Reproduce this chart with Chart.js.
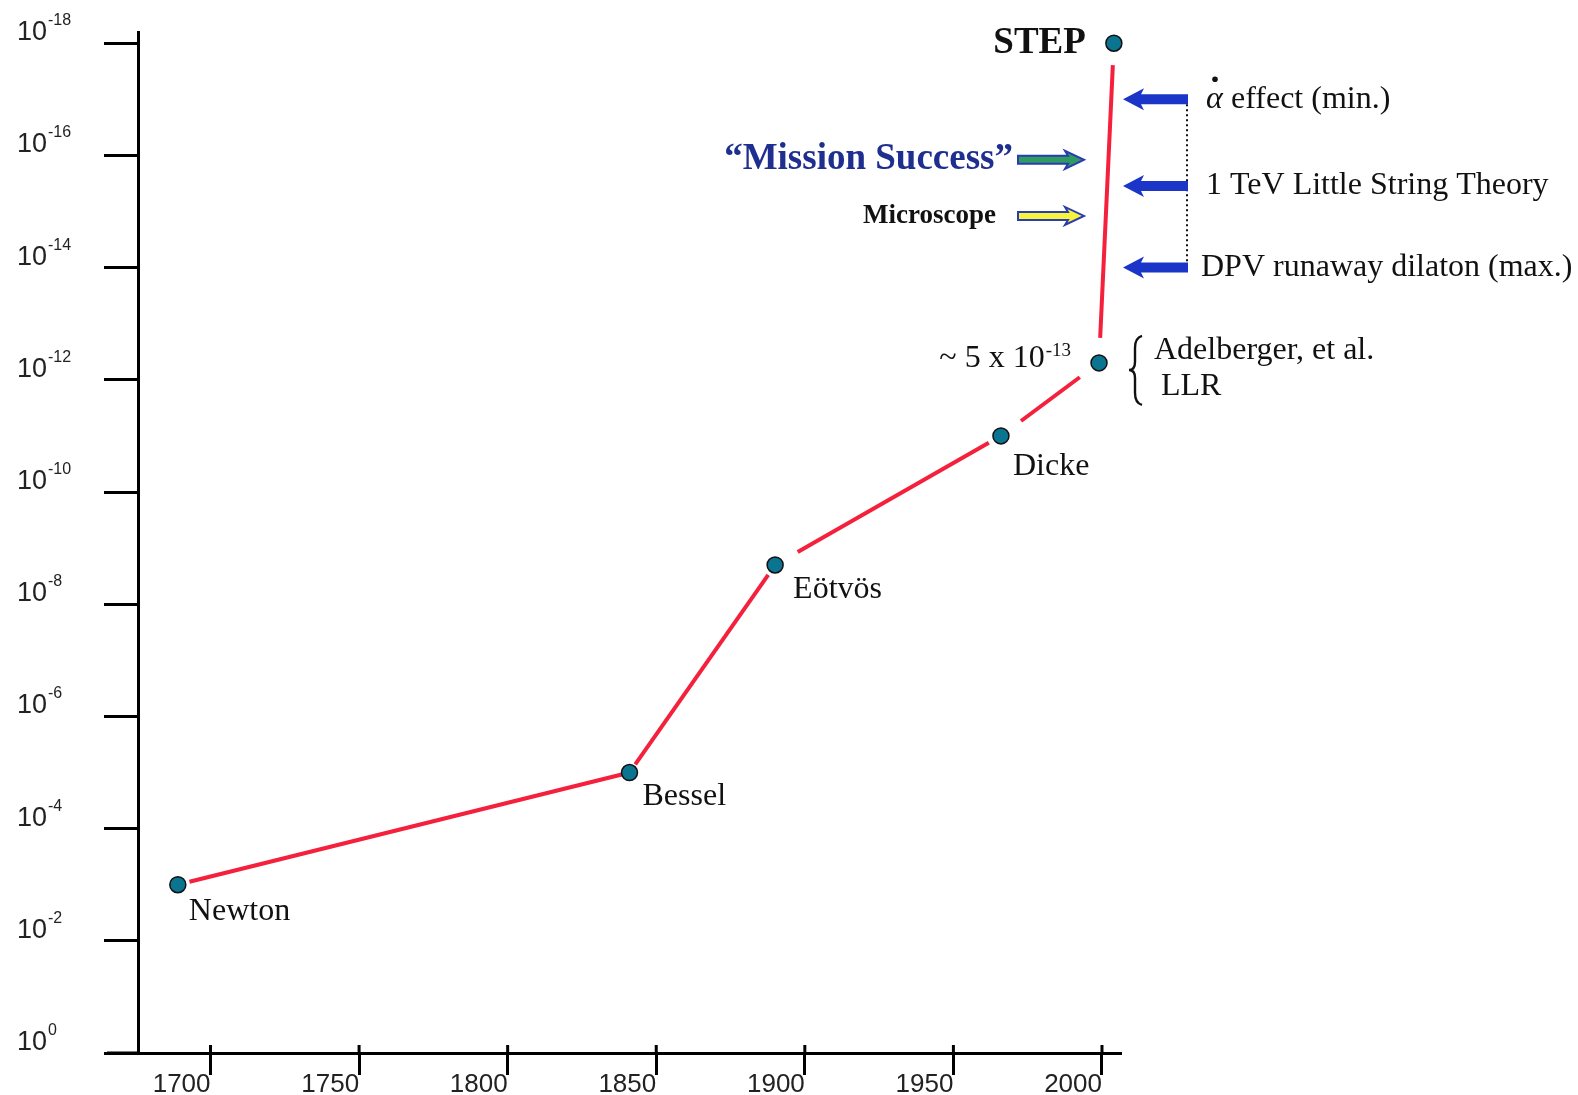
<!DOCTYPE html>
<html>
<head>
<meta charset="utf-8">
<script src="https://cdn.jsdelivr.net/npm/chart.js@4.4.1/dist/chart.umd.min.js"></script>
<style>
  html, body { margin: 0; padding: 0; background: #fff; overflow: hidden; }
  #wrap { width: 1578px; height: 1095px; }
  canvas { display: block; }
</style>
</head>
<body>
<div id="wrap"><canvas id="ep-chart"></canvas></div>
<script>
// measurements of the equivalence principle
let experiments = ['Newton', 'Bessel', 'Eötvös', 'Dicke', 'Adelberger', 'STEP'];
let years = [1689, 1841, 1890, 1966, 1999, 2004];
let precision = [1e-3, 1e-5, 2e-9, 1e-11, 5e-13, 1e-18];

let yearTicks = [1700, 1750, 1800, 1850, 1900, 1950, 2000];
let exponentTicks = [0, -2, -4, -6, -8, -10, -12, -14, -16, -18];

// theory predictions (blue arrows) and mission goals
let theories = ['effect (min.)', '1 TeV Little String Theory', 'DPV runaway dilaton (max.)'];
let theoryLevels = [1e-17, 3.5e-16, 1e-14];
let goals = ['“Mission Success”', 'Microscope'];
let goalLevels = [1.2e-16, 1.2e-15];

// gap (px from point centre) left at each end of the red segments
let segmentGaps = [[12, 8], [10, 12], [26, 14], [25, 24], [25, 22]];

const SERIF = '"Liberation Serif", "Times New Roman", serif';
const SANS = '"Liberation Sans", Arial, sans-serif';

let arrowPath = (ctx, tail, tip, y, shaft, headLen, headHalf) => {
  let dir = tip > tail ? 1 : -1;
  let hb = tip - dir * headLen;
  ctx.beginPath();
  ctx.moveTo(tail, y - shaft / 2);
  ctx.lineTo(hb, y - shaft / 2);
  ctx.lineTo(hb - dir * 3, y - headHalf);
  ctx.lineTo(tip, y);
  ctx.lineTo(hb - dir * 3, y + headHalf);
  ctx.lineTo(hb, y + shaft / 2);
  ctx.lineTo(tail, y + shaft / 2);
  ctx.closePath();
};

let annotations = {
  id: 'annotations',
  afterDraw(chart) {
    let ctx = chart.ctx;
    let xs = chart.scales.x, ys = chart.scales.y;
    let area = chart.chartArea;
    ctx.save();

    // x axis runs a little past the y axis, ticks poke above the line
    ctx.strokeStyle = '#000';
    ctx.lineWidth = 3;
    ctx.beginPath();
    ctx.moveTo(107, area.bottom);
    ctx.lineTo(area.left, area.bottom);
    yearTicks.forEach(t => {
      let px = xs.getPixelForValue(t);
      ctx.moveTo(px, area.bottom - 8);
      ctx.lineTo(px, area.bottom);
    });
    ctx.stroke();

    // y tick labels 10^n
    ctx.fillStyle = '#222';
    ctx.textAlign = 'left';
    ctx.textBaseline = 'alphabetic';
    exponentTicks.forEach(e => {
      let py = ys.getPixelForValue(Math.pow(10, e));
      ctx.font = '27px ' + SANS;
      ctx.fillText('10', 17, py - 3);
      let w = ctx.measureText('10').width;
      ctx.font = '16px ' + SANS;
      ctx.fillText(e === 0 ? '0' : String(e), 17 + w + 1, py - 18);
    });

    // experiment names
    let pts = experiments.map((n, i) => ({
      x: xs.getPixelForValue(years[i]),
      y: ys.getPixelForValue(precision[i])
    }));
    let offsets = { Newton: [11, 27], Bessel: [13, 24], 'Eötvös': [18, 25], Dicke: [12, 31] };
    ctx.fillStyle = '#111';
    ctx.textBaseline = 'middle';
    ctx.font = '32px ' + SERIF;
    experiments.forEach((n, i) => {
      if (!offsets[n]) return;
      ctx.fillText(n, pts[i].x + offsets[n][0], pts[i].y + offsets[n][1]);
    });

    // STEP
    let step = pts[5];
    ctx.font = 'bold 37px ' + SERIF;
    ctx.textAlign = 'right';
    ctx.fillText('STEP', step.x - 28, step.y);

    // Adelberger / LLR
    let ad = pts[4];
    ctx.font = '19px ' + SERIF;
    let supW = ctx.measureText('-13').width;
    ctx.textAlign = 'left';
    ctx.fillText('-13', ad.x - 28 - supW, ad.y - 12);
    ctx.textAlign = 'right';
    ctx.font = '32px ' + SERIF;
    ctx.fillText('~ 5 x 10', ad.x - 29 - supW, ad.y - 4);
    ctx.textAlign = 'left';
    ctx.fillText('Adelberger, et al.', ad.x + 55, ad.y - 12);
    ctx.fillText('LLR', ad.x + 62, ad.y + 24);
    // brace
    let bx = ad.x + 36, bt = ad.y - 27, bm = ad.y + 7, bb = ad.y + 42;
    ctx.strokeStyle = '#111';
    ctx.lineWidth = 2.4;
    ctx.beginPath();
    ctx.moveTo(bx + 7, bt);
    ctx.quadraticCurveTo(bx, bt + 2, bx, bt + 12);
    ctx.lineTo(bx, bm - 8);
    ctx.quadraticCurveTo(bx, bm, bx - 6, bm);
    ctx.quadraticCurveTo(bx, bm, bx, bm + 8);
    ctx.lineTo(bx, bb - 12);
    ctx.quadraticCurveTo(bx, bb - 2, bx + 7, bb);
    ctx.stroke();

    // theory arrows
    let tipX = area.right + 2, tailX = area.right + 67;
    let theoryY = theoryLevels.map(v => ys.getPixelForValue(v));
    ctx.setLineDash([2, 3]);
    ctx.lineWidth = 2;
    ctx.strokeStyle = '#111';
    ctx.beginPath();
    ctx.moveTo(tailX - 1, theoryY[0] + 5);
    ctx.lineTo(tailX - 1, theoryY[2] - 5);
    ctx.stroke();
    ctx.setLineDash([]);
    theoryY.forEach(py => {
      arrowPath(ctx, tailX, tipX, py, 10, 18, 11);
      ctx.fillStyle = '#1a35c8';
      ctx.fill();
    });
    ctx.fillStyle = '#111';
    ctx.textAlign = 'left';
    theories.forEach((t, i) => {
      if (i === 0) {
        ctx.font = 'italic 32px ' + SERIF;
        ctx.fillText('α', area.right + 85, theoryY[i]);
        ctx.beginPath();
        ctx.arc(area.right + 94, theoryY[i] - 20, 2.8, 0, Math.PI * 2);
        ctx.fill();
        ctx.font = '32px ' + SERIF;
        ctx.fillText(t, area.right + 110, theoryY[i]);
      } else {
        ctx.font = '32px ' + SERIF;
        ctx.fillText(t, area.right + (i === 1 ? 85 : 80), theoryY[i]);
      }
    });

    // goal arrows
    let goalStyle = [
      { fill: '#2f9a62', font: 'bold 37px ' + SERIF, color: '#1f2f8f', textRight: area.right - 108 },
      { fill: '#f6f43c', font: 'bold 27px ' + SERIF, color: '#111', textRight: area.right - 125 }
    ];
    goals.forEach((g, i) => {
      let py = ys.getPixelForValue(goalLevels[i]);
      let st = goalStyle[i];
      arrowPath(ctx, area.right - 103, area.right - 37, py, 8, 16, 9);
      ctx.fillStyle = st.fill;
      ctx.fill();
      ctx.strokeStyle = '#2a3cb0';
      ctx.lineWidth = 2;
      ctx.stroke();
      ctx.font = st.font;
      ctx.fillStyle = st.color;
      ctx.textAlign = 'right';
      ctx.fillText(g, st.textRight, py);
    });

    ctx.restore();
  }
};

let drawChart = () => {
  let pointsData = years.map((yr, i) => ({ x: yr, y: precision[i] }));

  new Chart(document.getElementById('ep-chart'), {
    type: 'line',
    data: {
      datasets: [
        {
          label: 'experiments',
          type: 'scatter',
          data: pointsData,
          pointRadius: 8,
          pointBackgroundColor: '#0b7490',
          pointBorderColor: '#111',
          pointBorderWidth: 1.5,
          clip: false,
          order: 0
        },
        {
          label: 'trend',
          data: pointsData,
          borderColor: '#f4203c',
          borderWidth: 4,
          borderCapStyle: 'butt',
          pointRadius: 0,
          tension: 0,
          fill: false,
          clip: false,
          order: 1,
          segment: {
            borderDash: c => {
              let L = Math.hypot(c.p1.x - c.p0.x, c.p1.y - c.p0.y);
              let g = segmentGaps[c.p0DataIndex] || [0, 0];
              return [0, g[0], Math.max(L - g[0] - g[1], 0), L + 1000];
            }
          }
        }
      ]
    },
    options: {
      responsive: true,
      maintainAspectRatio: false,
      animation: false,
      layout: { padding: { left: 0, right: 457, top: 32, bottom: 0 } },
      plugins: {
        legend: { display: false },
        tooltip: { enabled: false },
        title: { display: false }
      },
      scales: {
        x: {
          type: 'linear',
          min: 1675.6,
          max: 2006.4,
          afterBuildTicks: s => { s.ticks = yearTicks.map(v => ({ value: v })); },
          afterFit: s => { s.height = 42; },
          border: { color: '#000', width: 3 },
          grid: { drawOnChartArea: false, tickLength: 22, tickWidth: 3, tickColor: '#000' },
          ticks: {
            align: 'end',
            padding: -6,
            maxRotation: 0,
            autoSkip: false,
            color: '#222',
            font: { family: SANS, size: 26 },
            callback: v => String(v)
          }
        },
        y: {
          type: 'logarithmic',
          reverse: true,
          min: Math.pow(10, -18.2),
          max: 1,
          afterBuildTicks: s => { s.ticks = exponentTicks.map(e => ({ value: Math.pow(10, e) })); },
          afterFit: s => { s.width = 138; },
          border: { color: '#000', width: 3 },
          grid: { drawOnChartArea: false, tickLength: 34, tickWidth: 3, tickColor: '#000' },
          ticks: { display: false }
        }
      }
    },
    plugins: [annotations]
  });
};

drawChart();
</script>
</body>
</html>
